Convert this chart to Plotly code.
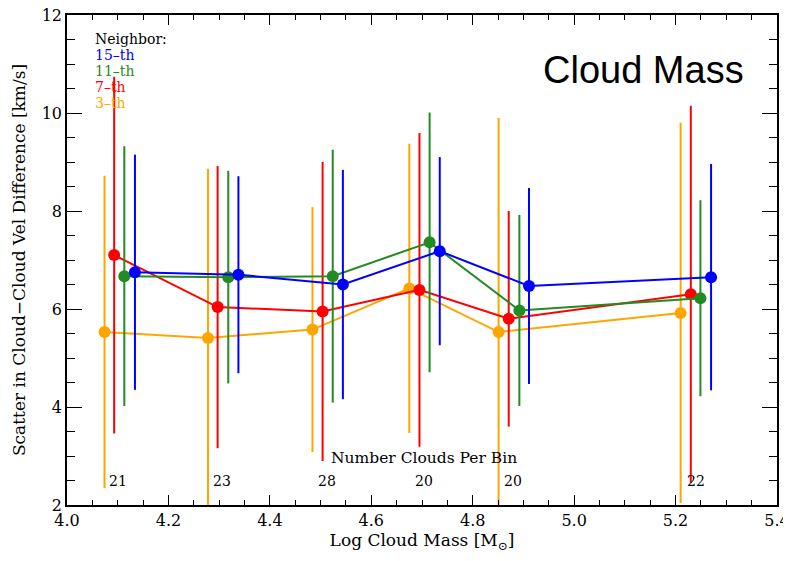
import plotly.graph_objects as go

# ---- data ----
x_15 = [4.134, 4.338, 4.544, 4.735, 4.911, 5.270]
y_15 = [6.75, 6.70, 6.50, 7.18, 6.47, 6.65]
e_15 = [2.40, 2.01, 2.34, 1.92, 2.00, 2.31]

x_11 = [4.113, 4.318, 4.524, 4.715, 4.892, 5.249]
y_11 = [6.67, 6.65, 6.67, 7.36, 5.97, 6.22]
e_11 = [2.65, 2.17, 2.58, 2.65, 1.95, 2.00]

x_7 = [4.093, 4.297, 4.504, 4.695, 4.871, 5.230]
y_7 = [7.10, 6.04, 5.95, 6.39, 5.80, 6.30]
e_7 = [3.64, 2.88, 3.05, 3.20, 2.20, 3.85]

x_3 = [4.074, 4.278, 4.484, 4.675, 4.851, 5.210]
y_3 = [5.53, 5.41, 5.58, 6.42, 5.53, 5.92]
e_3 = [3.19, 3.45, 2.50, 2.95, 4.37, 3.88]

count_x = [4.100, 4.306, 4.513, 4.703, 4.880, 5.240]
counts = [21, 23, 28, 20, 20, 22]

legend_labels = ["15–th", "11–th", "7–th", "3–th"]
colors = {"15": "#0000FF", "11": "#228B22", "7": "#FF0000", "3": "#FFA500"}

SERIF = "DejaVu Serif"

fig = go.Figure()
series = [("3", x_3, y_3, e_3), ("7", x_7, y_7, e_7),
          ("11", x_11, y_11, e_11), ("15", x_15, y_15, e_15)]
for name, xs, ys, es in series:
    c = colors[name]
    fig.add_trace(go.Scatter(
        x=xs, y=ys, mode="lines+markers", name=name + "-th",
        line=dict(color=c, width=2),
        marker=dict(color=c, size=12),
        error_y=dict(type="data", array=es, visible=True, color=c,
                     thickness=2, width=0),
        showlegend=False,
    ))

annotations = []
# legend text block
annotations.append(dict(x=0.037, y=0.952, xref="paper", yref="paper", text="Neighbor:",
                        showarrow=False, xanchor="left", yanchor="middle",
                        font=dict(family=SERIF, size=14, color="black")))
leg_colors = [colors["15"], colors["11"], colors["7"], colors["3"]]
for i, (lab, c) in enumerate(zip(legend_labels, leg_colors)):
    annotations.append(dict(x=0.037, y=0.919 - i * 0.0327, xref="paper", yref="paper",
                            text=lab, showarrow=False, xanchor="left", yanchor="middle",
                            font=dict(family=SERIF, size=14, color=c)))
# big title
annotations.append(dict(x=0.957, y=0.888, xref="paper", yref="paper", text="Cloud Mass",
                        showarrow=False, xanchor="right", yanchor="middle",
                        font=dict(family="Liberation Sans", size=38, color="black")))
# counts
annotations.append(dict(x=4.517, y=2.96, xref="x", yref="y", text="Number Clouds Per Bin",
                        showarrow=False, xanchor="left", yanchor="middle",
                        font=dict(family=SERIF, size=15.5, color="black")))
for cx, n in zip(count_x, counts):
    annotations.append(dict(x=cx, y=2.49, xref="x", yref="y", text=str(n),
                            showarrow=False, xanchor="center", yanchor="middle",
                            font=dict(family=SERIF, size=14, color="black")))

axis_common = dict(showgrid=False, zeroline=False, showline=True, linecolor="black",
                   linewidth=1.5, mirror="allticks", ticks="inside", tickcolor="black",
                   tickwidth=1.2, automargin=False, ticklabeloverflow="allow")

fig.update_layout(
    width=783, height=553,
    margin=dict(l=59, r=14, t=7, b=56),
    paper_bgcolor="white", plot_bgcolor="white",
    font=dict(family=SERIF, size=16, color="black"),
    annotations=annotations,
    xaxis=dict(range=[4.0, 5.4], dtick=0.2, tick0=4.0, tickformat=".1f", ticklen=10,
               minor=dict(dtick=0.05, ticklen=5, ticks="inside", tickcolor="black", tickwidth=1.2),
               title=dict(text="Log Cloud Mass [M<sub>⊙</sub>]", standoff=4,
                          font=dict(family=SERIF, size=17)),
               tickfont=dict(family=SERIF, size=16), **axis_common),
    yaxis=dict(range=[2, 12], dtick=2, tick0=2, ticklen=15,
               minor=dict(dtick=0.5, ticklen=8, ticks="inside", tickcolor="black", tickwidth=1.2),
               title=dict(text="Scatter in Cloud−Cloud Vel Difference [km/s]", standoff=12,
                          font=dict(family=SERIF, size=17)),
               tickfont=dict(family=SERIF, size=16), **axis_common),
)

fig.write_html("out.html")
